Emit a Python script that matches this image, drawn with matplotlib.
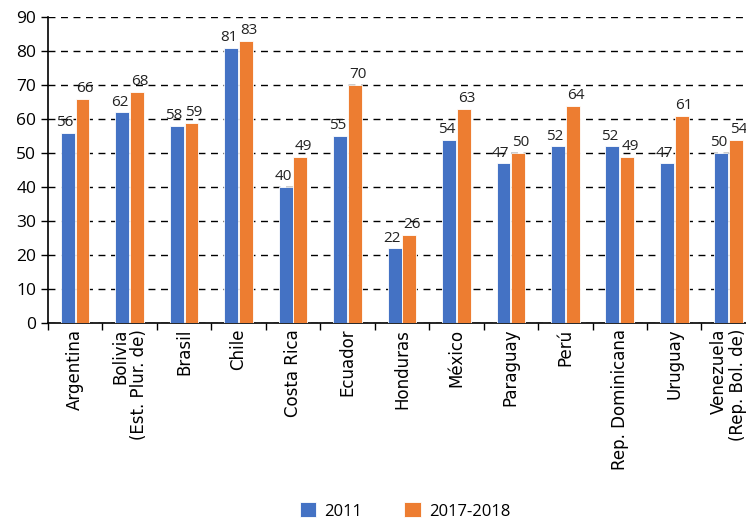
import matplotlib.pyplot as plt
import numpy as np

paises = ['Argentina', 'Bolivia\n(Est. Plur. de)', 'Brasil', 'Chile', 'Costa Rica',
          'Ecuador', 'Honduras', 'México', 'Paraguay', 'Perú',
          'Rep. Dominicana', 'Uruguay', 'Venezuela\n(Rep. Bol. de)']
v2011 = [56, 62, 58, 81, 40, 55, 22, 54, 47, 52, 52, 47, 50]
v2017 = [66, 68, 59, 83, 49, 70, 26, 63, 50, 64, 49, 61, 54]

azul = '#4472C4'
naranja = '#ED7D31'

fig = plt.figure(figsize=(7.46, 5.23), dpi=100)
ax = fig.add_axes([0.0643, 0.382, 0.949, 0.585])

x = np.arange(len(paises))
w = 0.255
b1 = ax.bar(x - 0.135, v2011, w, color=azul, edgecolor='white', linewidth=0.6, label='2011', zorder=3)
b2 = ax.bar(x + 0.135, v2017, w, color=naranja, edgecolor='white', linewidth=0.6, label='2017-2018', zorder=3)

num_font = 'Open Sans'
# etiquetas un poco separadas hacia afuera para que no se toquen
for barras, dx in ((b1, -2), (b2, 2)):
    for r in barras:
        ax.annotate(str(int(r.get_height())), (r.get_x() + r.get_width() / 2, r.get_height()),
                    xytext=(dx, 2), textcoords='offset points', ha='center', va='bottom',
                    fontsize=11, family=num_font, color='#222222')

ax.set_ylim(0, 90)
ax.set_yticks(range(0, 91, 10))
ax.set_xlim(-0.5, len(paises) - 0.5)
ax.yaxis.grid(True, linestyle=(0, (5, 4)), color='black', linewidth=1, zorder=0)

ax.set_xticks(x)
ax.set_xticklabels(paises, rotation=90, fontsize=12, family='DejaVu Sans', linespacing=1.1,
                   multialignment='right')
ax.set_xticks(np.arange(-0.5, len(paises), 1), minor=True)
ax.tick_params(axis='x', which='major', length=0, pad=4)
ax.tick_params(axis='x', which='minor', length=5, width=1)
ax.tick_params(axis='y', length=5, width=1, labelsize=12.5)
for t in ax.get_yticklabels():
    t.set_family(num_font)

ax.spines['top'].set_visible(False)
ax.spines['right'].set_visible(False)
ax.spines['left'].set_linewidth(1.2)
ax.spines['bottom'].set_linewidth(1.2)

fig.legend(handles=[b1, b2], labels=['2011', '2017-2018'], loc='center',
           bbox_to_anchor=(0.543, 0.023), ncol=2, frameon=False,
           prop={'family': num_font, 'size': 12}, handlelength=1.0, handleheight=1.0,
           columnspacing=2.5, handletextpad=0.5)

fig.savefig('out.png', dpi=100)
